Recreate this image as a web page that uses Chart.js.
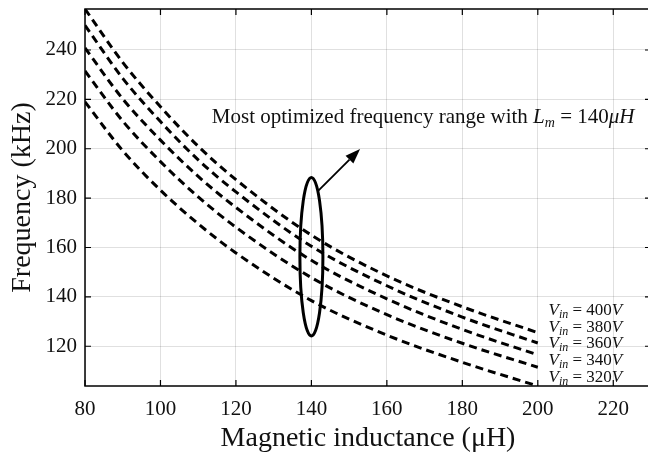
<!DOCTYPE html>
<html>
<head>
<meta charset="utf-8">
<script src="https://cdn.jsdelivr.net/npm/chart.js@4.4.0/dist/chart.umd.min.js"></script>
<style>
  html, body { margin: 0; padding: 0; background: #fff; overflow: hidden; }
  /* a bit wider than the window: the right side of the box is cut off like in the original */
  #wrap { width: 651px; height: 458px; }
</style>
</head>
<body>
<div id="wrap"><canvas id="chart"></canvas></div>
<script>
const inductance = [80, 90, 100, 110, 120, 140, 160, 180, 200];
// switching frequency (kHz), one list per input voltage
const freq400 = [256.6, 235.0, 217.0, 201.0, 187.5, 165.0, 148.5, 136.0, 125.5];
const freq380 = [250.0, 228.5, 211.0, 195.5, 182.5, 160.5, 144.5, 131.8, 121.3];
const freq360 = [240.8, 220.2, 203.5, 188.8, 176.2, 154.8, 139.2, 126.8, 116.5];
const freq340 = [231.5, 211.2, 194.8, 180.5, 168.2, 147.8, 132.8, 121.2, 111.5];
const freq320 = [219.0, 199.2, 183.2, 169.6, 157.8, 138.5, 124.5, 113.5, 103.9];
const voltages = ['400', '380', '360', '340', '320'];
const series = [freq400, freq380, freq360, freq340, freq320];

const SERIF = '"Liberation Serif", "DejaVu Serif", serif';

// writes a line made of pieces [text, size, italic, shiftY]
function drawRich(ctx, x, y, parts) {
  let cx = x;
  parts.forEach(([t, size, italic, dy]) => {
    ctx.font = (italic ? 'italic ' : '') + size + 'px ' + SERIF;
    ctx.fillText(t, cx, y + (dy || 0));
    cx += ctx.measureText(t).width;
  });
}

// box, inward ticks, ellipse, arrow and the text notes
const extras = {
  id: 'extras',
  afterDatasetsDraw(chart) {
    const { ctx, chartArea: a, scales: { x, y } } = chart;
    ctx.save();

    // box
    ctx.strokeStyle = '#000';
    ctx.lineWidth = 1.5;
    ctx.strokeRect(a.left, a.top, a.right - a.left, a.bottom - a.top);

    // ticks pointing inside
    ctx.lineWidth = 1.2;
    ctx.beginPath();
    x.ticks.forEach(t => {
      const px = x.getPixelForValue(t.value);
      ctx.moveTo(px, a.bottom); ctx.lineTo(px, a.bottom - 6);
      ctx.moveTo(px, a.top); ctx.lineTo(px, a.top + 6);
    });
    y.ticks.forEach(t => {
      const py = y.getPixelForValue(t.value);
      ctx.moveTo(a.left, py); ctx.lineTo(a.left + 6, py);
      ctx.moveTo(a.right, py); ctx.lineTo(a.right - 6, py);
    });
    ctx.stroke();

    // ellipse around L = 140
    const cx = x.getPixelForValue(140), cy = y.getPixelForValue(156.3);
    const rx = x.getPixelForValue(143.05) - cx;
    const ry = cy - y.getPixelForValue(188.4);
    ctx.lineWidth = 3;
    ctx.beginPath();
    ctx.ellipse(cx, cy, rx, ry, 0, 0, Math.PI * 2);
    ctx.stroke();

    // arrow
    const x0 = x.getPixelForValue(141.85), y0 = y.getPixelForValue(183.0);
    const x1 = x.getPixelForValue(152.9), y1 = y.getPixelForValue(199.9);
    const ang = Math.atan2(y1 - y0, x1 - x0);
    const hl = 15, hw = 5.5;
    const bx = x1 - hl * Math.cos(ang), by = y1 - hl * Math.sin(ang);
    ctx.lineWidth = 1.8;
    ctx.beginPath();
    ctx.moveTo(x0, y0); ctx.lineTo(bx, by);
    ctx.stroke();
    ctx.fillStyle = '#000';
    ctx.beginPath();
    ctx.moveTo(x1, y1);
    ctx.lineTo(bx + hw * Math.sin(ang), by - hw * Math.cos(ang));
    ctx.lineTo(bx - hw * Math.sin(ang), by + hw * Math.cos(ang));
    ctx.closePath();
    ctx.fill();

    // note above the curves
    ctx.fillStyle = '#111';
    ctx.textBaseline = 'alphabetic';
    ctx.textAlign = 'left';
    drawRich(ctx, x.getPixelForValue(113.6), y.getPixelForValue(210.6), [
      ['Most optimized frequency range with ', 21, false],
      ['L', 21, true], ['m', 14, true, 4],
      [' = 140', 21, false], ['μH', 21, true]
    ]);

    // voltage labels
    const labelY = [132.6, 125.8, 119.1, 112.3, 105.6];
    voltages.forEach((v, i) => {
      drawRich(ctx, x.getPixelForValue(202.85), y.getPixelForValue(labelY[i]), [
        ['V', 17, true], ['in', 12, true, 3], [' = ' + v, 17, false], ['V', 17, true]
      ]);
    });
    ctx.restore();
  }
};

const datasets = series.map((vals, i) => ({
  label: 'Vin = ' + voltages[i] + 'V',
  data: inductance.map((L, j) => ({ x: L, y: vals[j] })),
  borderColor: '#000',
  borderWidth: 3,
  borderDash: [8, 5],
  borderCapStyle: 'butt',
  pointRadius: 0,
  cubicInterpolationMode: 'monotone',
  fill: false
}));

const allVals = series.flat();

new Chart(document.getElementById('chart'), {
  type: 'line',
  data: { datasets },
  plugins: [extras],
  options: {
    responsive: true,
    maintainAspectRatio: false,
    animation: false,
    layout: { padding: { top: 9, right: 0, left: 0, bottom: 0 } },
    plugins: { legend: { display: false }, tooltip: { enabled: false } },
    scales: {
      x: {
        type: 'linear',
        min: 80,
        max: 230,
        afterFit: s => { s.height = 72; s.paddingLeft = 0; s.paddingRight = 0; },
        ticks: {
          stepSize: 20,
          includeBounds: false,
          padding: 11,
          color: '#111',
          font: { family: SERIF, size: 21 }
        },
        grid: { color: 'rgba(0,0,0,0.12)', drawTicks: false },
        border: { display: false },
        title: {
          display: true,
          text: 'Magnetic inductance (μH)',
          color: '#111',
          font: { family: SERIF, size: 28 },
          padding: { top: 0, bottom: 3 }
        }
      },
      y: {
        min: Math.min(...allVals),
        max: Math.max(...allVals),
        afterFit: s => { s.width = 85; s.paddingTop = 0; s.paddingBottom = 0; },
        ticks: {
          stepSize: 20,
          includeBounds: false,
          padding: 8,
          color: '#111',
          font: { family: SERIF, size: 21 }
        },
        grid: { color: 'rgba(0,0,0,0.12)', drawTicks: false },
        border: { display: false },
        title: {
          display: true,
          text: 'Frequency (kHz)',
          color: '#111',
          font: { family: SERIF, size: 28 },
          padding: { top: 6, bottom: 0 }
        }
      }
    }
  }
});
</script>
</body>
</html>
